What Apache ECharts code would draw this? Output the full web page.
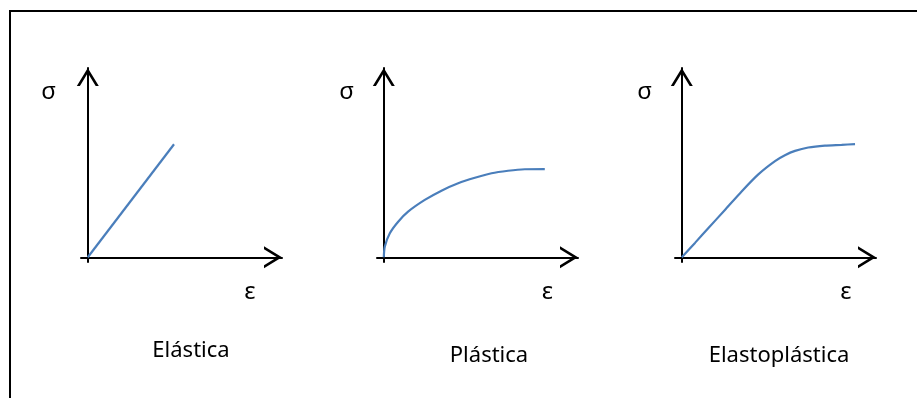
<!DOCTYPE html>
<html>
<head>
<meta charset="utf-8">
<script src="https://cdn.jsdelivr.net/npm/echarts@6/dist/echarts.min.js"></script>
<style>
  html, body { margin: 0; padding: 0; background: #fff; }
  #main { width: 917px; height: 398px; }
</style>
</head>
<body>
<div id="main"></div>
<script>
// curvas esfuerzo (σ) - deformación (ε), unidades arbitrarias
var titulos = ['Elástica', 'Plástica', 'Elastoplástica'];
var elastica = [[0, 0], [4.44, 5.97]];
var plastica = [[0, 0], [0.05, 0.56], [0.31, 1.27], [0.74, 1.88], [1.25, 2.41], [2.11, 3.03],
  [2.97, 3.52], [3.83, 3.91], [4.69, 4.2], [5.55, 4.44], [6.4, 4.57], [7.26, 4.65], [8.29, 4.66]];
var elastoplastica = [[0, 0], [0.68, 0.76], [1.36, 1.53], [2.22, 2.5], [3.08, 3.48], [3.94, 4.38],
  [4.8, 5.08], [5.31, 5.39], [5.83, 5.62], [6.51, 5.8], [7.37, 5.9], [8.23, 5.94], [8.92, 5.98]];
var curvas = [elastica, plastica, elastoplastica];

var myChart = echarts.init(document.getElementById('main'));

var fuente = '"Noto Sans", sans-serif';
// punta de flecha abierta (chevron)
var flecha = 'path://M11 0 L22 18 L18.9 18 L11 5 L3.1 18 L0 18 Z';
var izq = [81, 377, 675];
var grids = [], xAxes = [], yAxes = [], series = [], textos = [];

function eje(i, min) {
  return {
    gridIndex: i,
    type: 'value',
    min: min,
    max: 10,
    axisLine: {
      show: true,
      onZero: true,
      symbol: ['none', flecha],
      symbolSize: [22, 18],
      symbolOffset: [0, -9],
      lineStyle: { color: '#000', width: 2 }
    },
    axisTick: { show: false },
    axisLabel: { show: false },
    splitLine: { show: false }
  };
}

function texto(t, x, y, size) {
  return {
    type: 'text', x: x, y: y, silent: true,
    style: {
      text: t, font: size + 'px ' + fuente, fill: '#000',
      align: 'center', verticalAlign: 'middle',
      textAlign: 'center', textVerticalAlign: 'middle'
    }
  };
}

for (var i = 0; i < 3; i++) {
  grids.push({ left: izq[i], top: 68, width: 201, height: 194 });
  xAxes.push(eje(i, -0.35));
  yAxes.push(eje(i, -0.25));
  series.push({
    type: 'line',
    xAxisIndex: i,
    yAxisIndex: i,
    data: curvas[i],
    showSymbol: false,
    smooth: i === 0 ? false : 0.25,
    lineStyle: { color: '#4A7EBB', width: 2.2 },
    animation: false
  });
}

var sx = [48.5, 346.7, 644.5];
var ex = [250, 547.5, 846];
var tx = [191, 489, 779];
var ty = [350.4, 356, 356];
for (var j = 0; j < 3; j++) {
  textos.push(texto('σ', sx[j], 92.5, 24));
  textos.push(texto('ε', ex[j], 292.5, 24));
  textos.push(texto(titulos[j], tx[j], ty[j], 22));
}
// marco
textos.push({
  type: 'rect', silent: true,
  shape: { x: 10, y: 11, width: 1000, height: 500 },
  style: { fill: 'none', stroke: '#000', lineWidth: 2 }
});

myChart.setOption({
  backgroundColor: '#fff',
  animation: false,
  grid: grids,
  xAxis: xAxes,
  yAxis: yAxes,
  series: series,
  graphic: textos
});
</script>
</body>
</html>
